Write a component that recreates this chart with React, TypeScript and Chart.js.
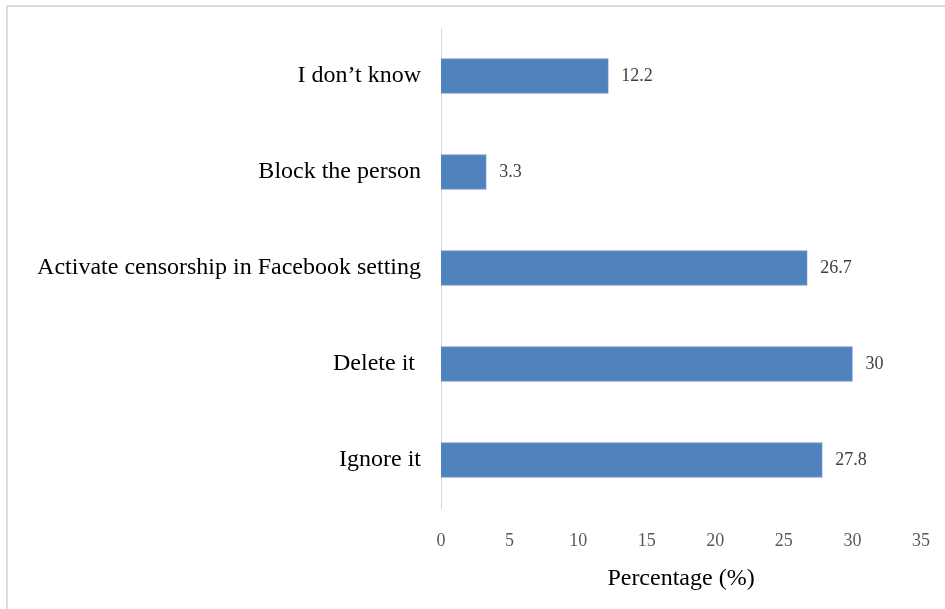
import React, { useEffect, useRef } from "react";
import { Chart, registerables } from "chart.js";

Chart.register(...registerables);

const categories = [
  "I don\u2019t know",
  "Block the person",
  "Activate censorship in Facebook setting",
  "Delete it ",
  "Ignore it",
];
const values = [12.2, 3.3, 26.7, 30, 27.8];
const axisTitle = "Percentage (%)";
const xMin = 0;
const xMax = 35;
const xStep = 5;

const SERIF = "'Liberation Serif', 'Times New Roman', serif";

const valueLabels = {
  id: "valueLabels",
  afterDatasetsDraw(chart: any) {
    const ctx = chart.ctx;
    const meta = chart.getDatasetMeta(0);
    ctx.save();
    ctx.font = `18px ${SERIF}`;
    ctx.fillStyle = "#404040";
    ctx.textAlign = "left";
    ctx.textBaseline = "middle";
    meta.data.forEach((bar: any, i: number) => {
      ctx.fillText(String(values[i]), bar.x + 13, bar.y);
    });
    ctx.restore();
  },
};

export default function App() {
  const ref = useRef<HTMLCanvasElement>(null);
  useEffect(() => {
    if (!ref.current) return;
    const chart = new Chart(ref.current, {
      type: "bar",
      data: {
        labels: categories,
        datasets: [
          {
            data: values,
            backgroundColor: "#4F81BD",
            borderColor: "#6A93C8",
            borderWidth: 1,
            barThickness: 35,
          },
        ],
      },
      options: {
        indexAxis: "y",
        animation: false,
        responsive: false,
        maintainAspectRatio: false,
        layout: { padding: { left: 0, top: 28, right: 24, bottom: 0 } },
        plugins: {
          legend: { display: false },
          tooltip: { enabled: false },
        },
        scales: {
          x: {
            min: xMin,
            max: xMax,
            ticks: {
              stepSize: xStep,
              color: "#595959",
              font: { family: SERIF, size: 18 },
              padding: 22,
            },
            grid: { display: false, drawTicks: false },
            border: { display: false },
            title: {
              display: true,
              text: axisTitle,
              color: "#000000",
              font: { family: SERIF, size: 24 },
              padding: { top: 0, bottom: 16 },
            },
            afterFit(scale: any) {
              scale.height = 101;
              scale.paddingLeft = 0;
              scale.paddingRight = 0;
            },
          },
          y: {
            ticks: {
              color: "#000000",
              font: { family: SERIF, size: 24 },
              padding: 20,
            },
            grid: { display: false, drawTicks: false },
            border: { display: true, color: "#D9D9D9", width: 1 },
            afterFit(scale: any) {
              scale.width = 441;
              scale.paddingTop = 0;
              scale.paddingBottom = 0;
            },
          },
        },
      },
      plugins: [valueLabels],
    });
    return () => chart.destroy();
  }, []);

  return (
    <div style={{ position: "absolute", left: 0, top: 0, width: 945, height: 609, background: "#fff", overflow: "hidden" }}>
      <div style={{ position: "absolute", left: 6, top: 5, width: 939, height: 604, borderTop: "2px solid #DCDCDC", borderLeft: "2px solid #DCDCDC" }} />
      <canvas ref={ref} width={945} height={609} style={{ position: "absolute", left: 0, top: 0 }} />
    </div>
  );
}
